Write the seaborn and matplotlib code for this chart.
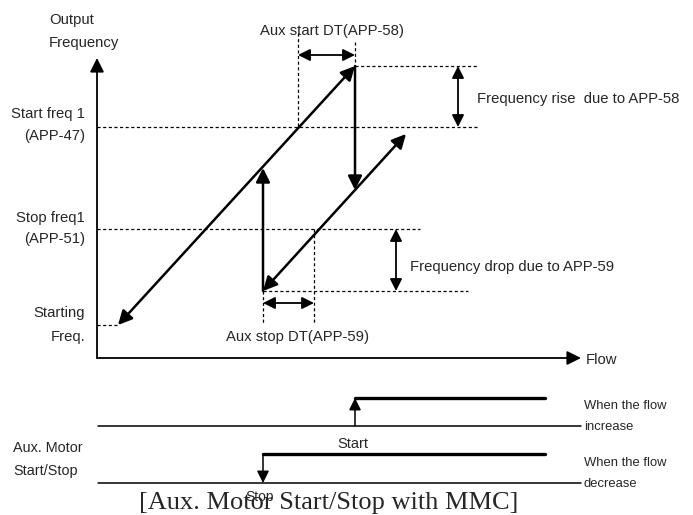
import matplotlib
matplotlib.use("Agg")
import matplotlib.pyplot as plt
import seaborn as sns
import pandas as pd

# ---------------- data (canvas units: x = flow, y = output frequency, origin top-left) ----
axis_origin = (97, 358)
axis_y_top = 58
axis_x_end = 581

level_names = ["Start freq 1", "Stop freq1", "Starting"]
level_names2 = ["(APP-47)", "(APP-51)", "Freq."]
level_y = [127, 229, 325]
level_x_end = [478, 420, 118]
level_text_y1 = [114, 218, 313]
level_text_y2 = [136, 239, 337]

# extra dotted guides: (x0, y0, x1, y1)
guide_x0 = [355, 263, 298, 355, 263, 314]
guide_y0 = [66, 291, 33, 42, 291, 229]
guide_x1 = [478, 468, 298, 355, 263, 314]
guide_y1 = [66, 291, 127, 66, 323, 323]

# ramps (double headed)
ramp_x0 = [118, 263]
ramp_y0 = [325, 291]
ramp_x1 = [355, 406]
ramp_y1 = [66, 134]

# jumps (single headed, from -> to)
jump_x = [355, 263]
jump_from = [66, 291]
jump_to = [190, 168]

# dimension arrows (double headed)
dim_x0 = [298, 263, 458, 396]
dim_y0 = [55, 303, 66, 229]
dim_x1 = [355, 314, 458, 396]
dim_y1 = [55, 303, 127, 291]

# timing diagram
base_y = [426, 483]
base_x0, base_x1 = 98, 581
step_y = [398, 454]
step_x0 = [355, 263]
step_x1 = 545

sns.set_theme(style="white")
plt.rcParams['font.family'] = ['Liberation Sans', 'DejaVu Sans']

fig = plt.figure(figsize=(6.93, 5.15), dpi=100)
ax = fig.add_axes([0, 0, 1, 1])
ax.set_xlim(0, 693)
ax.set_ylim(515, 0)
ax.axis("off")

K = "black"
head = "-|>,head_length=0.6,head_width=0.3"
dhead = "<|-|>,head_length=0.6,head_width=0.3"


def seg(x0, y0, x1, y1, **kw):
    df = pd.DataFrame({"x": [x0, x1], "y": [y0, y1]})
    sns.lineplot(data=df, x="x", y="y", ax=ax, sort=False, estimator=None,
                 color=K, legend=False, **kw)


def arrow(x0, y0, x1, y1, style, lw=1.5, ms=14):
    ax.annotate("", xy=(x1, y1), xytext=(x0, y0),
                arrowprops=dict(arrowstyle=style, color=K, lw=lw,
                                shrinkA=0, shrinkB=0, mutation_scale=ms))


dots = dict(lw=0.9, linestyle=(0, (2.5, 2)))

# axes
arrow(axis_origin[0], axis_origin[1], axis_origin[0], axis_y_top, head, lw=1.3)
arrow(axis_origin[0], axis_origin[1], axis_x_end, axis_origin[1], head, lw=1.3)

# dotted level lines
for y, xe in zip(level_y, level_x_end):
    seg(axis_origin[0], y, xe, y, **dots)
for a, b, c, d in zip(guide_x0, guide_y0, guide_x1, guide_y1):
    seg(a, b, c, d, **dots)

# ramps
for a, b, c, d in zip(ramp_x0, ramp_y0, ramp_x1, ramp_y1):
    arrow(a, b, c, d, dhead, lw=1.8)
# jumps
for x, f, t in zip(jump_x, jump_from, jump_to):
    arrow(x, f, x, t, head, lw=1.8)
# dimensions
for a, b, c, d in zip(dim_x0, dim_y0, dim_x1, dim_y1):
    arrow(a, b, c, d, dhead, lw=1.3, ms=12)

fs = 10.7
# texts upper
ax.text(49, 20, "Output", fontsize=fs, ha="left", va="center")
ax.text(49, 43, "Frequency", fontsize=fs, ha="left", va="center")
for n1, n2, t1, t2 in zip(level_names, level_names2, level_text_y1, level_text_y2):
    ax.text(85, t1, n1, fontsize=fs, ha="right", va="center")
    ax.text(85, t2, n2, fontsize=fs, ha="right", va="center")
ax.text(332, 31, "Aux start DT(APP-58)", fontsize=fs, ha="center", va="center")
ax.text(226, 337, "Aux stop DT(APP-59)", fontsize=fs, ha="left", va="center")
ax.text(477, 99, "Frequency rise  due to APP-58", fontsize=fs, ha="left", va="center")
ax.text(410, 267, "Frequency drop due to APP-59", fontsize=fs, ha="left", va="center")
ax.text(586, 360, "Flow", fontsize=fs, ha="left", va="center")

# timing diagram
for y in base_y:
    seg(base_x0, y, base_x1, y, lw=1.1)
for y, x0 in zip(step_y, step_x0):
    seg(x0, y, step_x1, y, lw=2.4)
arrow(step_x0[0], base_y[0], step_x0[0], step_y[0], head, lw=1.1, ms=12)
arrow(step_x0[1], step_y[1], step_x0[1], base_y[1], head, lw=1.1, ms=12)

fs2 = 9.4
ax.text(584, 406, "When the flow", fontsize=fs2, ha="left", va="center")
ax.text(584, 427, "increase", fontsize=fs2, ha="left", va="center")
ax.text(584, 463, "When the flow", fontsize=fs2, ha="left", va="center")
ax.text(584, 484, "decrease", fontsize=fs2, ha="left", va="center")
ax.text(353, 444, "Start", fontsize=10.5, ha="center", va="center")
ax.text(260, 497, "Stop", fontsize=10, ha="center", va="center")
ax.text(13, 448, "Aux. Motor", fontsize=10.4, ha="left", va="center")
ax.text(13, 471, "Start/Stop", fontsize=10.4, ha="left", va="center")

ax.text(329, 503, "[Aux. Motor Start/Stop with MMC]", fontsize=19,
        family=["Liberation Serif", "DejaVu Serif"], ha="center", va="center")

fig.savefig("out.png", dpi=100)
